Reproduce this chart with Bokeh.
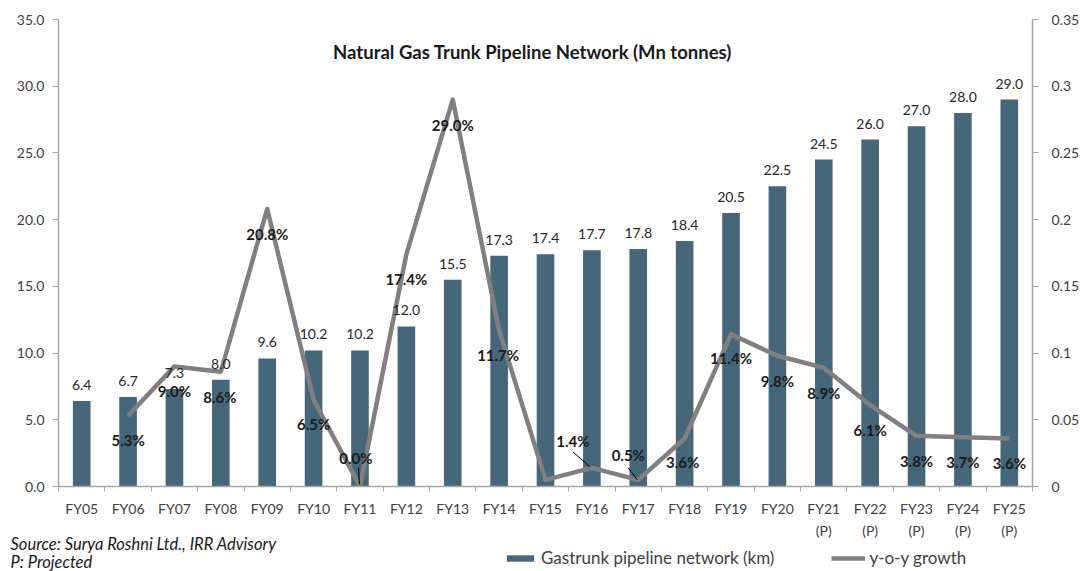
from bokeh.plotting import figure
from bokeh.layouts import column
from bokeh.models import (Range1d, LinearAxis, FixedTicker, NumeralTickFormatter,
                          ColumnDataSource, LabelSet, Label, Legend, LegendItem)
from bokeh.embed import file_html
from bokeh.resources import INLINE
from bokeh.core.properties import value

# ---------------- data ----------------
categories = ["FY05", "FY06", "FY07", "FY08", "FY09", "FY10", "FY11", "FY12", "FY13",
              "FY14", "FY15", "FY16", "FY17", "FY18", "FY19", "FY20",
              "FY21\n(P)", "FY22\n(P)", "FY23\n(P)", "FY24\n(P)", "FY25\n(P)"]
network = [6.4, 6.7, 7.3, 8.0, 9.6, 10.2, 10.2, 12.0, 15.5, 17.3, 17.4, 17.7, 17.8,
           18.4, 20.5, 22.5, 24.5, 26.0, 27.0, 28.0, 29.0]
# y-o-y growth from FY06 onwards
growth = [0.053, 0.090, 0.086, 0.208, 0.065, 0.000, 0.174, 0.290, 0.117, 0.005,
          0.014, 0.005, 0.036, 0.114, 0.098, 0.089, 0.061, 0.038, 0.037, 0.036]
left_ticks = [0, 5, 10, 15, 20, 25, 30, 35]
right_ticks = [0, 0.05, 0.1, 0.15, 0.2, 0.25, 0.3, 0.35]

title_text = "Natural Gas Trunk Pipeline Network (Mn tonnes)"
bar_name = "Gastrunk pipeline network (km)"
line_name = "y-o-y growth"
source_lines = ["Source: Surya Roshni Ltd., IRR Advisory", "P: Projected"]

# ---------------- style ----------------
FONT = "Lato"
BAR = "#46677A"
LINE = "#808080"
AXIS = "#A6A6A6"
TXT = "#404040"
# label offsets (screen px) for growth labels, FY06..FY25
g_dx = [0, 0, -1, 0, 0, -4, 0, 0, -1, -3, -19, -10, -2, 0, 0, 0, 0, 0, 0, 0]
g_dy = [-24, -25, -25, -25, -24, 29, -25, -25, -25, -22, 27, 25, -24, -24, -25, -25, -25, -25, -25, -25]
PX_X = 46.38      # px per category
PX_G = 1337.0     # px per growth unit
leaders = {5: ((-1.5, 19), (-0.5, 2)), 10: ((-19, 16), (-2, 1)), 11: ((-10, 12), (-1, 0))}

n = len(categories)
xs = list(range(n))

W = 1082
p = figure(width=W, height=541, x_range=Range1d(-0.5, n - 0.5), y_range=Range1d(0, 35),
           output_backend="svg", toolbar_location=None,
           min_border_left=58, min_border_right=50, min_border_top=19, min_border_bottom=54)
p.outline_line_color = None
p.grid.grid_line_color = None
p.background_fill_color = "white"
p.border_fill_color = "white"

# x axis
xa = p.xaxis[0]
xa.ticker = FixedTicker(ticks=xs, minor_ticks=[i - 0.5 for i in range(n + 1)])
xa.major_label_overrides = {i: c for i, c in enumerate(categories)}
xa.major_tick_out = 0
xa.major_tick_in = 0
xa.minor_tick_out = 5
xa.minor_tick_in = 0
xa.minor_tick_line_color = AXIS
xa.axis_line_color = AXIS
xa.axis_line_width = 1.5
xa.major_label_standoff = 8
xa.major_label_text_font = FONT
xa.major_label_text_font_size = "14px"
xa.major_label_text_color = TXT
xa.major_label_text_line_height = 1.3

# left axis
ya = p.yaxis[0]
ya.ticker = FixedTicker(ticks=left_ticks)
ya.formatter = NumeralTickFormatter(format="0.0")

p.extra_y_ranges = {"g": Range1d(0, 0.35)}
ra = LinearAxis(y_range_name="g", ticker=FixedTicker(ticks=right_ticks),
                formatter=NumeralTickFormatter(format="0.[00]"))
p.add_layout(ra, "right")

for ax in [ya, ra]:
    ax.major_tick_out = 6
    ax.major_tick_in = 0
    ax.minor_tick_out = 0
    ax.minor_tick_in = 0
    ax.major_tick_line_color = AXIS
    ax.axis_line_color = AXIS
    ax.axis_line_width = 1.5
    ax.major_label_text_font = FONT
    ax.major_label_text_font_size = "14px"
    ax.major_label_text_color = TXT
ya.major_label_standoff = 8
ra.major_label_standoff = 13

# bars
bsrc = ColumnDataSource(dict(x=xs, v=network, t=[f"{v:.1f}" for v in network]))
r_bar = p.vbar(x="x", top="v", width=0.38, source=bsrc, fill_color=BAR, line_color=None)
p.add_layout(LabelSet(x="x", y="v", text="t", source=bsrc, y_offset=11,
                      text_align="center", text_baseline="bottom",
                      text_font=value(FONT), text_font_size="14px", text_color="#262626"))

# growth line
gx = xs[1:]
gsrc = ColumnDataSource(dict(x=gx, g=growth, t=[f"{v*100:.1f}%" for v in growth],
                             dx=g_dx, dy=g_dy))
r_line = p.line("x", "g", source=gsrc, y_range_name="g", line_width=4.5,
                line_color=LINE, line_join="round")

# leader lines
lx0, ly0, lx1, ly1 = [], [], [], []
for k, ((ax0, ay0), (ax1, ay1)) in leaders.items():
    lx0.append(gx[k] + ax0 / PX_X); ly0.append(growth[k] + ay0 / PX_G)
    lx1.append(gx[k] + ax1 / PX_X); ly1.append(growth[k] + ay1 / PX_G)
p.segment(lx0, ly0, lx1, ly1, y_range_name="g", line_color="#000000", line_width=1)

p.add_layout(LabelSet(x="x", y="g", text="t", source=gsrc, y_range_name="g",
                      x_offset="dx", y_offset="dy", text_align="center",
                      text_baseline="middle", text_font=value(FONT),
                      text_font_size="15px", text_font_style="bold", text_color="#1A1A1A"))

# title
p.add_layout(Label(x=474, y=435, x_units="screen", y_units="screen", text=title_text,
                   text_align="center", text_baseline="middle", text_font=FONT,
                   text_font_size="18.5px", text_font_style="bold", text_color="#1A1A1A"))

# ---------------- footer strip: notes + legend (overlaps the axis area slightly) ----------------
OVERLAP = 10
p2 = figure(width=W, height=30 + OVERLAP, x_range=Range1d(0, 1), y_range=Range1d(0, 1),
            output_backend="svg", toolbar_location=None, x_axis_type=None, y_axis_type=None,
            min_border=0, min_border_left=0, min_border_right=0, min_border_top=0,
            min_border_bottom=0)
p2.margin = (-OVERLAP, 0, 0, 0)
if "frame_align" in p2.properties():
    p2.frame_align = False
    XOFF = 0
else:
    XOFF = 58
p2.outline_line_color = None
p2.grid.grid_line_color = None
p2.background_fill_alpha = 0
p2.border_fill_alpha = 0

for i, (s, yy) in enumerate(zip(source_lines, [28, 10])):
    p2.add_layout(Label(x=10 - XOFF, y=yy, x_units="screen", y_units="screen", text=s,
                        text_align="left", text_baseline="middle", text_font=FONT,
                        text_font_size="16.5px", text_font_style="italic", text_color="#1A1A1A"))

# legend proxies (zero-size, styled like the chart's marks)
lb = p2.vbar(x=[0], top=[0], width=0.01, fill_color=BAR, line_color=None)
ll = p2.line(x=[0], y=[0], line_width=4.5, line_color=LINE)
legend = Legend(items=[LegendItem(label=bar_name, renderers=[lb]),
                       LegendItem(label=line_name, renderers=[ll])],
                orientation="horizontal", location=(503 - XOFF, 3),
                glyph_width=34, glyph_height=8, label_height=16, label_standoff=4, spacing=57,
                padding=0, margin=0, border_line_color=None, background_fill_alpha=0,
                label_text_font=FONT, label_text_font_size="17px", label_text_color=TXT)
p2.add_layout(legend)

layout = column(p, p2, spacing=0)
open("out.html", "w").write(file_html(layout, INLINE))
